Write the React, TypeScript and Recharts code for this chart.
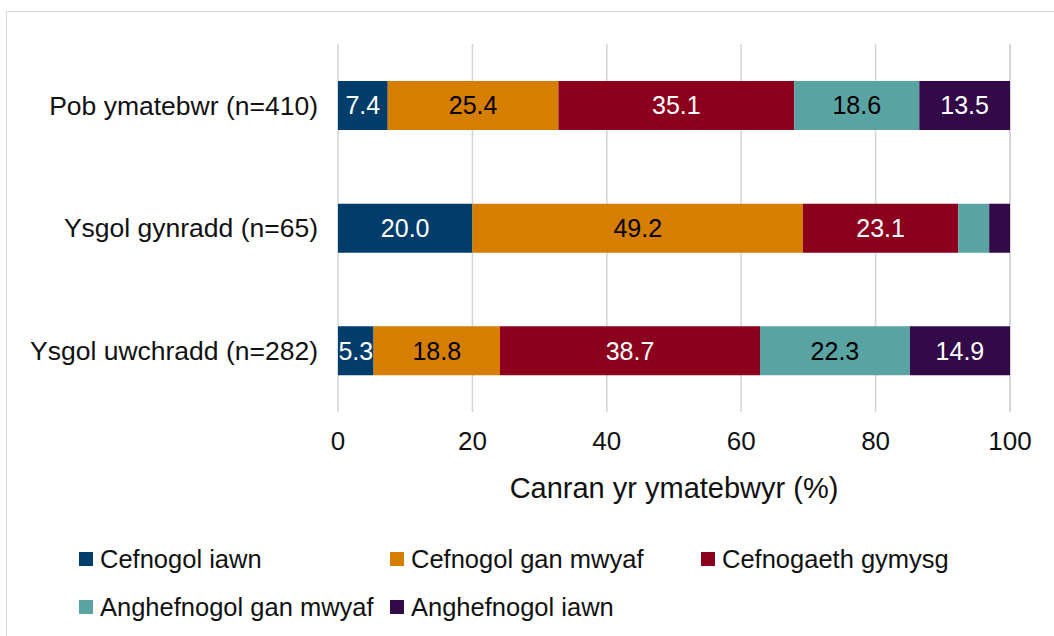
import React from 'react'
import { BarChart, Bar, XAxis, YAxis, CartesianGrid, Legend, LabelList } from 'recharts'

const categories = ['Pob ymatebwr (n=410)', 'Ysgol gynradd (n=65)', 'Ysgol uwchradd (n=282)']
const cefnogolIawn = [7.4, 20.0, 5.3]
const cefnogolGanMwyaf = [25.4, 49.2, 18.8]
const cefnogaethGymysg = [35.1, 23.1, 38.7]
const anghefnogolGanMwyaf = [18.6, 4.6, 22.3]
const anghefnogolIawn = [13.5, 3.1, 14.9]
const xTicks = [0, 20, 40, 60, 80, 100]

const series = [
  { key: 'Cefnogol iawn', values: cefnogolIawn, color: '#003D6B', text: '#ffffff' },
  { key: 'Cefnogol gan mwyaf', values: cefnogolGanMwyaf, color: '#D67E00', text: '#000000' },
  { key: 'Cefnogaeth gymysg', values: cefnogaethGymysg, color: '#8A001D', text: '#ffffff' },
  { key: 'Anghefnogol gan mwyaf', values: anghefnogolGanMwyaf, color: '#5AA3A3', text: '#000000' },
  { key: 'Anghefnogol iawn', values: anghefnogolIawn, color: '#330A48', text: '#ffffff' }
]

const data = categories.map((name, i) => {
  const row: Record<string, string | number> = { name }
  series.forEach(s => { row[s.key] = s.values[i] })
  return row
})

const FONT = '"Liberation Sans", Arial, sans-serif'
const TEXT = '#111111'

// legend keeps the series order (recharts sorts its payload by name)
function LegendContent(): React.ReactElement {
  return (
    <div style={{ display: 'grid', gridTemplateColumns: '311px 311px 311px', fontFamily: FONT, fontSize: 25.5, color: TEXT }}>
      {series.map(s => (
        <div key={s.key} style={{ display: 'flex', alignItems: 'center', height: 48, whiteSpace: 'nowrap' }}>
          <span style={{ display: 'inline-block', width: 14, height: 14, background: s.color, marginRight: 7 }} />
          <span>{s.key}</span>
        </div>
      ))}
    </div>
  )
}

export default function App(): React.ReactElement {
  return (
    <div style={{ position: 'absolute', left: 0, top: 0, width: 1054, height: 636, overflow: 'hidden', background: '#fff' }}>
      <div style={{ position: 'absolute', left: 6, top: 11, width: 1100, height: 700, border: '1px solid #d9d9d9' }} />
      <div style={{ position: 'absolute', left: 0, top: 0 }}>
        <BarChart
          width={1054}
          height={636}
          data={data}
          layout="vertical"
          margin={{ top: 44, right: 44, bottom: 114, left: 0 }}
          style={{ fontFamily: FONT }}
        >
          <CartesianGrid horizontal={false} stroke="#d4d4d4" strokeWidth={1.5} />
          <XAxis
            type="number"
            domain={[0, 100]}
            ticks={xTicks}
            tickLine={false}
            axisLine={false}
            tickMargin={14}
            height={110}
            tick={{ fontSize: 26, fill: TEXT, fontFamily: FONT }}
            label={{ value: 'Canran yr ymatebwyr (%)', position: 'insideBottom', offset: 24, fontSize: 29, fill: TEXT, fontFamily: FONT }}
          />
          <YAxis
            type="category"
            dataKey="name"
            width={338}
            tickLine={false}
            axisLine={false}
            tickMargin={14}
            tick={{ fontSize: 26.5, fill: TEXT, fontFamily: FONT }}
          />
          <Legend
            content={<LegendContent />}
            wrapperStyle={{ position: 'absolute', left: 79, top: 535, width: 960, height: 0, overflow: 'visible' }}
          />
          {series.map(s => (
            <Bar key={s.key} dataKey={s.key} stackId="a" fill={s.color} barSize={49} isAnimationActive={false}>
              <LabelList
                dataKey={s.key}
                position="center"
                fill={s.text}
                fontSize={25}
                fontFamily={FONT}
                formatter={(v: any) => (Number(v) < 5 ? '' : Number(v).toFixed(1))}
              />
            </Bar>
          ))}
        </BarChart>
      </div>
    </div>
  )
}
